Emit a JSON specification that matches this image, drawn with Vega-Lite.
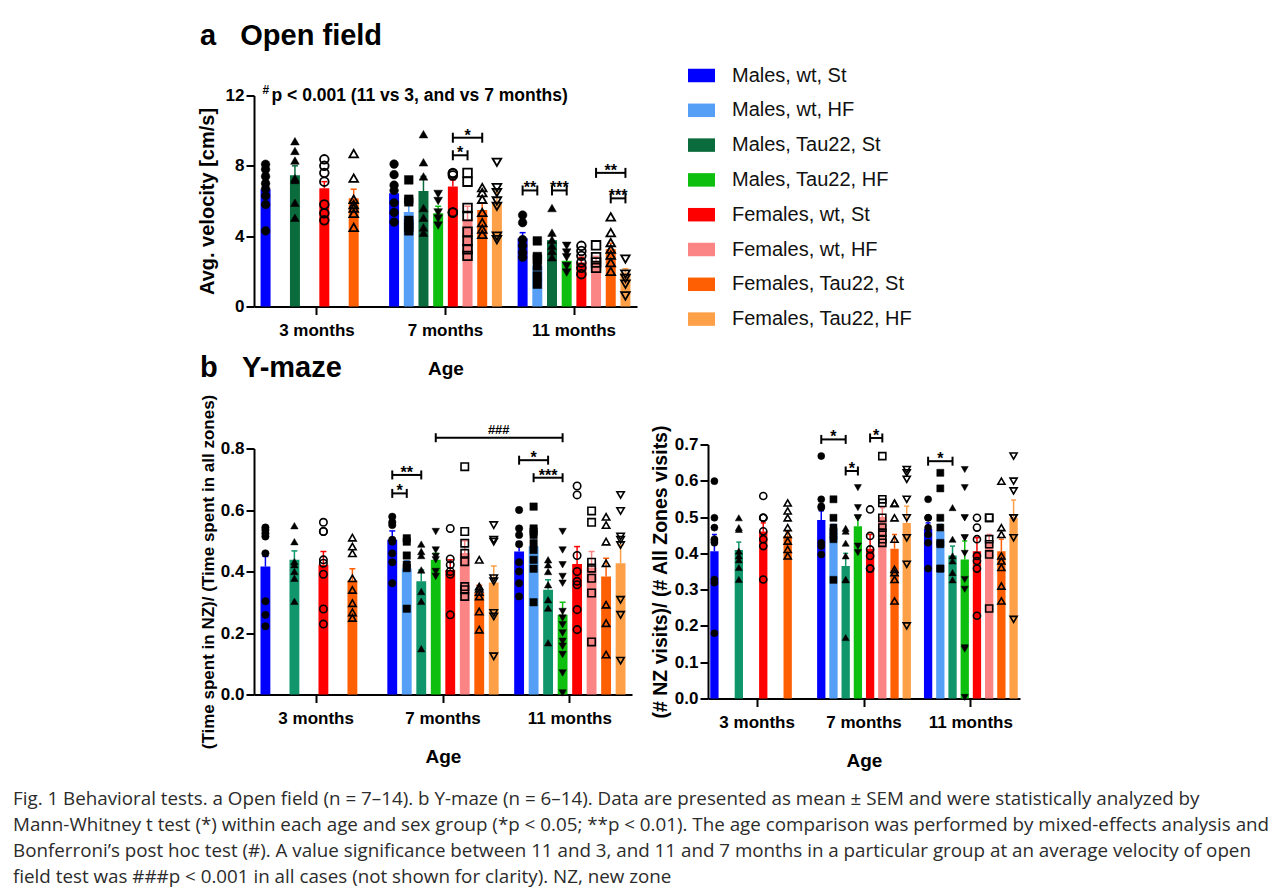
{
"$schema": "https://vega.github.io/schema/vega-lite/v6.json",
"background": "white",
"padding": {"left": 13, "top": 11.5, "right": 3, "bottom": 3},
"bounds": "flush",
"spacing": 0,
"config": {
 "font": "Liberation Sans",
 "view": {"stroke": null},
 "axis": {"grid": false, "labelOverlap": false, "domainColor": "#000", "domainWidth": 2, "tickColor": "#000", "tickWidth": 2, "tickSize": 8, "labelColor": "#000", "labelFont": "Liberation Sans", "labelFontWeight": "bold", "labelFontSize": 17, "labelPadding": 2, "titleColor": "#000", "titleFont": "Liberation Sans", "titleFontWeight": "bold"},
 "axisX": {"labelAngle": 0, "labelPadding": 8, "titlePadding": 21, "titleFontSize": 19, "bandPosition": 0.5},
 "title": {"font": "Liberation Sans", "color": "#000"}
},
"resolve": {"scale": {"color": "independent", "stroke": "independent", "fill": "independent", "shape": "independent", "xOffset": "independent", "x": "independent", "y": "independent"}, "axis": {"x": "independent", "y": "independent"}, "legend": {"color": "independent"}},
"datasets": {
 "barsA": [
  {"age":"3 months","group":"Males, wt, St","cond":"wt, St","mean":6.67,"hi":6.95,"pts":[8.09,7.8,7.4,7.0,6.7,6.3,5.8,4.3]},
  {"age":"3 months","group":"Males, Tau22, St","cond":"Tau22, St","mean":7.46,"hi":8.0,"pts":[9.4,8.85,8.3,7.3,7.2,5.9,5.05]},
  {"age":"3 months","group":"Females, wt, St","cond":"wt, St","mean":6.72,"hi":7.1,"pts":[8.37,8.0,7.6,7.1,5.8,5.3,4.9]},
  {"age":"3 months","group":"Females, Tau22, St","cond":"Tau22, St","mean":6.15,"hi":6.67,"pts":[8.7,7.3,6.1,5.8,5.6,5.3,4.5]},
  {"age":"7 months","group":"Males, wt, St","cond":"wt, St","mean":6.44,"hi":6.85,"pts":[8.1,7.5,6.9,6.6,5.9,5.35,4.8]},
  {"age":"7 months","group":"Males, wt, HF","cond":"wt, HF","mean":5.38,"hi":5.8,"pts":[7.2,6.1,5.95,4.9,4.7,4.5,4.3]},
  {"age":"7 months","group":"Males, Tau22, St","cond":"Tau22, St","mean":6.57,"hi":7.4,"pts":[9.8,8.2,7.4,5.6,5.05,4.5,4.2]},
  {"age":"7 months","group":"Males, Tau22, HF","cond":"Tau22, HF","mean":5.3,"hi":5.7,"pts":[6.4,6.0,5.35,5.0,4.6]},
  {"age":"7 months","group":"Females, wt, St","cond":"wt, St","mean":6.82,"hi":7.2,"pts":[7.6,7.55,7.45,5.35,5.35]},
  {"age":"7 months","group":"Females, wt, HF","cond":"wt, HF","mean":4.96,"hi":5.7,"pts":[7.6,7.1,5.6,5.15,4.25,3.73,3.26,2.88]},
  {"age":"7 months","group":"Females, Tau22, St","cond":"Tau22, St","mean":5.49,"hi":5.9,"pts":[6.76,6.48,6.1,5.35,4.77,4.4,4.1]},
  {"age":"7 months","group":"Females, Tau22, HF","cond":"Tau22, HF","mean":5.95,"hi":6.5,"pts":[8.2,6.76,6.48,6.0,5.7,4.0,3.8]},
  {"age":"11 months","group":"Males, wt, St","cond":"wt, St","mean":3.88,"hi":4.2,"pts":[5.2,4.77,3.8,3.45,3.07,2.8]},
  {"age":"11 months","group":"Males, wt, HF","cond":"wt, HF","mean":2.31,"hi":2.7,"pts":[3.73,2.84,2.7,2.3,1.74,1.27]},
  {"age":"11 months","group":"Males, Tau22, St","cond":"Tau22, St","mean":3.77,"hi":4.1,"pts":[5.6,4.2,3.8,3.45,3.16,2.8]},
  {"age":"11 months","group":"Males, Tau22, HF","cond":"Tau22, HF","mean":2.6,"hi":2.9,"pts":[3.45,3.07,2.8,2.3,1.93]},
  {"age":"11 months","group":"Females, wt, St","cond":"wt, St","mean":2.5,"hi":2.8,"pts":[3.45,3.16,2.88,2.5,2.2,1.84]},
  {"age":"11 months","group":"Females, wt, HF","cond":"wt, HF","mean":2.54,"hi":2.85,"pts":[3.48,2.8,2.5,2.2]},
  {"age":"11 months","group":"Females, Tau22, St","cond":"Tau22, St","mean":3.26,"hi":3.6,"pts":[5.1,4.2,3.64,3.26,2.92,2.5,2.0]},
  {"age":"11 months","group":"Females, Tau22, HF","cond":"Tau22, HF","mean":1.93,"hi":2.15,"pts":[2.7,1.84,1.6,1.27,0.6]}
 ],
 "brA": [
  {"id":"a1","age":"7 months","group":"Females, wt, St","y":9.6},{"id":"a1","age":"7 months","group":"Females, Tau22, St","y":9.6},
  {"id":"a2","age":"7 months","group":"Females, wt, St","y":8.6},{"id":"a2","age":"7 months","group":"Females, wt, HF","y":8.6},
  {"id":"a3","age":"11 months","group":"Males, wt, St","y":6.6},{"id":"a3","age":"11 months","group":"Males, wt, HF","y":6.6},
  {"id":"a4","age":"11 months","group":"Males, Tau22, St","y":6.6},{"id":"a4","age":"11 months","group":"Males, Tau22, HF","y":6.6},
  {"id":"a5","age":"11 months","group":"Females, wt, HF","y":7.6},{"id":"a5","age":"11 months","group":"Females, Tau22, HF","y":7.6},
  {"id":"a6","age":"11 months","group":"Females, Tau22, St","y":6.15},{"id":"a6","age":"11 months","group":"Females, Tau22, HF","y":6.15}
 ],
 "lbA": [
  {"age":"7 months","group":"Females, wt, HF","y":9.6,"t":"*","h":false},
  {"age":"7 months","group":"Females, wt, St","y":8.6,"t":"*","h":true},
  {"age":"11 months","group":"Males, wt, St","y":6.6,"t":"**","h":true},
  {"age":"11 months","group":"Males, Tau22, St","y":6.6,"t":"***","h":true},
  {"age":"11 months","group":"Females, Tau22, St","y":7.6,"t":"**","h":false},
  {"age":"11 months","group":"Females, Tau22, St","y":6.15,"t":"***","h":true}
 ],
 "barsBL": [
  {"age":"3 months","group":"Males, wt, St","cond":"wt, St","mean":0.416,"hi":0.449,"pts":[0.543,0.535,0.524,0.514,0.459,0.303,0.259,0.222]},
  {"age":"3 months","group":"Males, Tau22, St","cond":"Tau22, St","mean":0.438,"hi":0.467,"pts":[0.549,0.497,0.432,0.422,0.4,0.378,0.303]},
  {"age":"3 months","group":"Females, wt, St","cond":"wt, St","mean":0.422,"hi":0.465,"pts":[0.56,0.53,0.53,0.438,0.427,0.391,0.278,0.229]},
  {"age":"3 months","group":"Females, Tau22, St","cond":"Tau22, St","mean":0.371,"hi":0.409,"pts":[0.51,0.481,0.459,0.378,0.34,0.297,0.267,0.249]},
  {"age":"7 months","group":"Males, wt, St","cond":"wt, St","mean":0.503,"hi":0.532,"pts":[0.578,0.56,0.551,0.503,0.497,0.459,0.43,0.362]},
  {"age":"7 months","group":"Males, wt, HF","cond":"wt, HF","mean":0.41,"hi":0.435,"pts":[0.508,0.497,0.452,0.422,0.411,0.279]},
  {"age":"7 months","group":"Males, Tau22, St","cond":"Tau22, St","mean":0.368,"hi":0.405,"pts":[0.489,0.465,0.452,0.405,0.335,0.303,0.149]},
  {"age":"7 months","group":"Males, Tau22, HF","cond":"Tau22, HF","mean":0.438,"hi":0.459,"pts":[0.53,0.47,0.449,0.438,0.4,0.384]},
  {"age":"7 months","group":"Females, wt, St","cond":"wt, St","mean":0.405,"hi":0.438,"pts":[0.54,0.441,0.422,0.4,0.391,0.259]},
  {"age":"7 months","group":"Females, wt, HF","cond":"wt, HF","mean":0.46,"hi":0.5,"pts":[0.741,0.53,0.492,0.459,0.432,0.351,0.341,0.319]},
  {"age":"7 months","group":"Females, Tau22, St","cond":"Tau22, St","mean":0.33,"hi":0.355,"pts":[0.438,0.351,0.344,0.333,0.319,0.27,0.211]},
  {"age":"7 months","group":"Females, Tau22, HF","cond":"Tau22, HF","mean":0.364,"hi":0.418,"pts":[0.551,0.503,0.497,0.378,0.368,0.265,0.254,0.124]},
  {"age":"11 months","group":"Males, wt, St","cond":"wt, St","mean":0.465,"hi":0.497,"pts":[0.6,0.54,0.519,0.489,0.43,0.4,0.362,0.319]},
  {"age":"11 months","group":"Males, wt, HF","cond":"wt, HF","mean":0.481,"hi":0.51,"pts":[0.611,0.54,0.53,0.519,0.492,0.47,0.438,0.409,0.3]},
  {"age":"11 months","group":"Males, Tau22, St","cond":"Tau22, St","mean":0.341,"hi":0.373,"pts":[0.438,0.422,0.4,0.357,0.308,0.281,0.168]},
  {"age":"11 months","group":"Males, Tau22, HF","cond":"Tau22, HF","mean":0.259,"hi":0.3,"pts":[0.53,0.47,0.422,0.384,0.362,0.27,0.249,0.227,0.2,0.173,0.157,0.13,0.07,0.005]},
  {"age":"11 months","group":"Females, wt, St","cond":"wt, St","mean":0.424,"hi":0.481,"pts":[0.678,0.649,0.452,0.4,0.368,0.357,0.276,0.211]},
  {"age":"11 months","group":"Females, wt, HF","cond":"wt, HF","mean":0.413,"hi":0.465,"pts":[0.597,0.56,0.43,0.411,0.378,0.33,0.171]},
  {"age":"11 months","group":"Females, Tau22, St","cond":"Tau22, St","mean":0.384,"hi":0.443,"pts":[0.578,0.551,0.497,0.427,0.292,0.232,0.13]},
  {"age":"11 months","group":"Females, Tau22, HF","cond":"Tau22, HF","mean":0.427,"hi":0.486,"pts":[0.649,0.597,0.514,0.503,0.486,0.308,0.259,0.11]}
 ],
 "brBL": [
  {"id":"b1","age":"7 months","group":"Males, wt, St","y":0.654},{"id":"b1","age":"7 months","group":"Males, wt, HF","y":0.654},
  {"id":"b2","age":"7 months","group":"Males, wt, St","y":0.714},{"id":"b2","age":"7 months","group":"Males, Tau22, St","y":0.714},
  {"id":"b3","age":"7 months","group":"Males, Tau22, HF","y":0.835},{"id":"b3","age":"11 months","group":"Males, Tau22, HF","y":0.835},
  {"id":"b4","age":"11 months","group":"Males, wt, St","y":0.762},{"id":"b4","age":"11 months","group":"Males, Tau22, St","y":0.762},
  {"id":"b5","age":"11 months","group":"Males, wt, HF","y":0.705},{"id":"b5","age":"11 months","group":"Males, Tau22, HF","y":0.705}
 ],
 "lbBL": [
  {"age":"7 months","group":"Males, wt, St","y":0.654,"t":"*","h":true},
  {"age":"7 months","group":"Males, wt, HF","y":0.714,"t":"**","h":false},
  {"age":"7 months","group":"Females, Tau22, HF","y":0.835,"t":"###","h":true},
  {"age":"11 months","group":"Males, wt, HF","y":0.762,"t":"*","h":false},
  {"age":"11 months","group":"Males, Tau22, St","y":0.705,"t":"***","h":false}
 ],
 "barsBR": [
  {"age":"3 months","group":"Males, wt, St","cond":"wt, St","mean":0.406,"hi":0.452,"pts":[0.599,0.498,0.471,0.439,0.434,0.429,0.328,0.319,0.18]},
  {"age":"3 months","group":"Males, Tau22, St","cond":"Tau22, St","mean":0.409,"hi":0.431,"pts":[0.498,0.471,0.466,0.406,0.393,0.382,0.361,0.328]},
  {"age":"3 months","group":"Females, wt, St","cond":"wt, St","mean":0.46,"hi":0.484,"pts":[0.558,0.498,0.498,0.498,0.461,0.439,0.42,0.328]},
  {"age":"3 months","group":"Females, Tau22, St","cond":"Tau22, St","mean":0.448,"hi":0.46,"pts":[0.539,0.517,0.498,0.471,0.452,0.434,0.411,0.393]},
  {"age":"7 months","group":"Males, wt, St","cond":"wt, St","mean":0.492,"hi":0.517,"pts":[0.668,0.549,0.53,0.526,0.429,0.42,0.397]},
  {"age":"7 months","group":"Males, wt, HF","cond":"wt, HF","mean":0.465,"hi":0.48,"pts":[0.549,0.498,0.471,0.461,0.448,0.439,0.327]},
  {"age":"7 months","group":"Males, Tau22, St","cond":"Tau22, St","mean":0.365,"hi":0.4,"pts":[0.469,0.461,0.428,0.393,0.328,0.327,0.168]},
  {"age":"7 months","group":"Males, Tau22, HF","cond":"Tau22, HF","mean":0.475,"hi":0.498,"pts":[0.581,0.526,0.498,0.498,0.42,0.402]},
  {"age":"7 months","group":"Females, wt, St","cond":"wt, St","mean":0.413,"hi":0.452,"pts":[0.521,0.448,0.411,0.393,0.358,0.358]},
  {"age":"7 months","group":"Females, wt, HF","cond":"wt, HF","mean":0.5,"hi":0.526,"pts":[0.668,0.549,0.539,0.498,0.471,0.457,0.439,0.429]},
  {"age":"7 months","group":"Females, Tau22, St","cond":"Tau22, St","mean":0.413,"hi":0.452,"pts":[0.538,0.538,0.498,0.439,0.356,0.347,0.328,0.269]},
  {"age":"7 months","group":"Females, Tau22, HF","cond":"Tau22, HF","mean":0.484,"hi":0.53,"pts":[0.631,0.622,0.604,0.549,0.498,0.443,0.37,0.2]},
  {"age":"11 months","group":"Males, wt, St","cond":"wt, St","mean":0.468,"hi":0.484,"pts":[0.549,0.498,0.498,0.471,0.452,0.429,0.358]},
  {"age":"11 months","group":"Males, wt, HF","cond":"wt, HF","mean":0.461,"hi":0.48,"pts":[0.622,0.579,0.498,0.471,0.429,0.425,0.358,0.358]},
  {"age":"11 months","group":"Males, Tau22, St","cond":"Tau22, St","mean":0.394,"hi":0.42,"pts":[0.526,0.439,0.393,0.379,0.347,0.327]},
  {"age":"11 months","group":"Males, Tau22, HF","cond":"Tau22, HF","mean":0.383,"hi":0.434,"pts":[0.631,0.581,0.498,0.498,0.443,0.443,0.4,0.328,0.301,0.14,0.136,0.003]},
  {"age":"11 months","group":"Females, wt, St","cond":"wt, St","mean":0.406,"hi":0.443,"pts":[0.498,0.471,0.439,0.393,0.379,0.358,0.228]},
  {"age":"11 months","group":"Females, wt, HF","cond":"wt, HF","mean":0.43,"hi":0.452,"pts":[0.498,0.498,0.439,0.425,0.397,0.248]},
  {"age":"11 months","group":"Females, Tau22, St","cond":"Tau22, St","mean":0.406,"hi":0.439,"pts":[0.599,0.471,0.452,0.393,0.379,0.361,0.31,0.269]},
  {"age":"11 months","group":"Females, Tau22, HF","cond":"Tau22, HF","mean":0.498,"hi":0.547,"pts":[0.668,0.599,0.572,0.498,0.498,0.443,0.218]}
 ],
 "brBR": [
  {"id":"c1","age":"7 months","group":"Males, wt, St","y":0.714},{"id":"c1","age":"7 months","group":"Males, Tau22, St","y":0.714},
  {"id":"c2","age":"7 months","group":"Males, Tau22, St","y":0.627},{"id":"c2","age":"7 months","group":"Males, Tau22, HF","y":0.627},
  {"id":"c3","age":"7 months","group":"Females, wt, St","y":0.718},{"id":"c3","age":"7 months","group":"Females, wt, HF","y":0.718},
  {"id":"c4","age":"11 months","group":"Males, wt, St","y":0.654},{"id":"c4","age":"11 months","group":"Males, Tau22, St","y":0.654}
 ],
 "lbBR": [
  {"age":"7 months","group":"Males, wt, HF","y":0.714,"t":"*","h":false},
  {"age":"7 months","group":"Males, Tau22, St","y":0.627,"t":"*","h":true},
  {"age":"7 months","group":"Females, wt, St","y":0.718,"t":"*","h":true},
  {"age":"11 months","group":"Males, wt, HF","y":0.654,"t":"*","h":false}
 ]
},
"vconcat": [
 {"width": 1, "height": 84, "data": {"values": [{}]}, "mark": {"type": "text"}, "encoding": {}},
 {
  "bounds": "flush",
  "spacing": 138,
  "resolve": {"scale": {"color": "independent", "stroke": "independent", "fill": "independent", "shape": "independent", "xOffset": "independent", "x": "independent", "y": "independent"}, "axis": {"x": "independent", "y": "independent"}, "legend": {"color": "independent"}},
  "title": {"text": ["Fig. 1 Behavioral tests. a Open field (n = 7–14). b Y-maze (n = 6–14). Data are presented as mean ± SEM and were statistically analyzed by", "Mann-Whitney t test (*) within each age and sex group (*p < 0.05; **p < 0.01). The age comparison was performed by mixed-effects analysis and", "Bonferroni’s post hoc test (#). A value significance between 11 and 3, and 11 and 7 months in a particular group at an average velocity of open", "field test was ###p < 0.001 in all cases (not shown for clarity). NZ, new zone"], "orient": "bottom", "anchor": "start", "frame": "group", "dx": -241, "offset": 19, "font": "Open Sans", "fontSize": 18.8, "fontWeight": "normal", "color": "#2b2b2b", "lineHeight": 26.2, "baseline": "top"},
  "vconcat": [
   {
    "width": 383, "height": 211,
    "title": {"text": "a\u00a0\u00a0\u00a0Open field", "anchor": "start", "frame": "group", "dx": -54, "fontSize": 29, "fontWeight": "bold", "baseline": "alphabetic", "offset": -12},
    "encoding": {
     "x": {"field": "age", "type": "nominal", "title": "Age", "scale": {"domain": ["3 months","7 months","11 months"], "paddingInner": 0.08, "paddingOuter": 0.03}},
     "xOffset": {"field": "group", "type": "nominal", "scale": {"domain": ["Males, wt, St","Males, wt, HF","Males, Tau22, St","Males, Tau22, HF","Females, wt, St","Females, wt, HF","Females, Tau22, St","Females, Tau22, HF"], "paddingInner": 0.32, "paddingOuter": 0.185}}
    },
    "layer": [
     {"data": {"name": "barsA"}, "mark": {"type": "bar"},
      "encoding": {"y": {"field": "mean", "type": "quantitative", "title": "Avg. velocity [cm/s]", "scale": {"domain": [0, 12], "nice": false}, "axis": {"values": [0,4,8,12], "titleFontSize": 20, "titlePadding": 8}},
       "color": {"field": "group", "type": "nominal", "scale": {"domain": ["Males, wt, St","Males, wt, HF","Males, Tau22, St","Males, Tau22, HF","Females, wt, St","Females, wt, HF","Females, Tau22, St","Females, Tau22, HF"], "range": ["#0000ff","#55a0f6","#0a6b3c","#0fbf10","#fe0000","#fb8484","#ff5f03","#fda048"]},
        "legend": {"orient": "none", "legendX": 434, "legendY": -33.5, "direction": "vertical", "title": null, "symbolType": "M-1,-0.5H1V0.5H-1Z", "symbolSize": 729, "symbolStrokeWidth": 0, "symbolOpacity": 1, "labelFontSize": 20, "labelFont": "Liberation Sans", "labelFontWeight": "normal", "labelColor": "#111", "rowPadding": 10.8, "labelOffset": 17, "labelLimit": 400, "padding": 0, "symbolOffset": 0}}}},
     {"data": {"name": "barsA"}, "mark": {"type": "rule", "strokeWidth": 1.5},
      "encoding": {"y": {"field": "mean", "type": "quantitative", "title": "Avg. velocity [cm/s]"}, "y2": {"field": "hi"},
       "stroke": {"field": "group", "type": "nominal", "scale": {"domain": ["Males, wt, St","Males, wt, HF","Males, Tau22, St","Males, Tau22, HF","Females, wt, St","Females, wt, HF","Females, Tau22, St","Females, Tau22, HF"], "range": ["#0000ff","#55a0f6","#0a6b3c","#0fbf10","#fe0000","#fb8484","#ff5f03","#fda048"]}, "legend": null}}},
     {"data": {"name": "barsA"}, "mark": {"type": "tick", "thickness": 1.5, "size": 6, "opacity": 1},
      "encoding": {"y": {"field": "hi", "type": "quantitative", "title": "Avg. velocity [cm/s]"},
       "fill": {"field": "group", "type": "nominal", "scale": {"domain": ["Males, wt, St","Males, wt, HF","Males, Tau22, St","Males, Tau22, HF","Females, wt, St","Females, wt, HF","Females, Tau22, St","Females, Tau22, HF"], "range": ["#0000ff","#55a0f6","#0a6b3c","#0fbf10","#fe0000","#fb8484","#ff5f03","#fda048"]}, "legend": null}}},
     {"data": {"name": "barsA"}, "transform": [{"flatten": ["pts"]}, {"filter": "indexof(datum.group, 'Males') === 0"}],
      "mark": {"type": "point", "filled": true, "fill": "#000", "stroke": "#000", "strokeWidth": 0.5, "size": 75, "opacity": 1},
      "encoding": {"y": {"field": "pts", "type": "quantitative", "title": "Avg. velocity [cm/s]"},
       "shape": {"field": "cond", "type": "nominal", "scale": {"domain": ["wt, St","wt, HF","Tau22, St","Tau22, HF"], "range": ["circle","square","triangle-up","triangle-down"]}, "legend": null}}},
     {"data": {"name": "barsA"}, "transform": [{"flatten": ["pts"]}, {"filter": "indexof(datum.group, 'Females') === 0"}],
      "mark": {"type": "point", "filled": false, "stroke": "#000", "strokeWidth": 1.8, "size": 75, "opacity": 1},
      "encoding": {"y": {"field": "pts", "type": "quantitative", "title": "Avg. velocity [cm/s]"},
       "shape": {"field": "cond", "type": "nominal", "legend": null}}},
     {"data": {"name": "brA"}, "mark": {"type": "line", "stroke": "#000", "strokeWidth": 2},
      "encoding": {"y": {"field": "y", "type": "quantitative", "title": "Avg. velocity [cm/s]"}, "detail": {"field": "id", "type": "nominal"}}},
     {"data": {"name": "brA"}, "mark": {"type": "point", "shape": "M0,-1L0,1", "size": 100, "filled": false, "stroke": "#000", "strokeWidth": 2, "opacity": 1},
      "encoding": {"y": {"field": "y", "type": "quantitative", "title": "Avg. velocity [cm/s]"}}},
     {"data": {"name": "lbA"}, "transform": [{"filter": "!datum.h"}], "mark": {"type": "text", "fontSize": 16, "fontWeight": "bold", "baseline": "alphabetic", "dy": 3, "fill": "#000"},
      "encoding": {"y": {"field": "y", "type": "quantitative", "title": "Avg. velocity [cm/s]"}, "text": {"field": "t"}}},
     {"data": {"name": "lbA"}, "transform": [{"filter": "datum.h"}], "mark": {"type": "text", "fontSize": 16, "fontWeight": "bold", "baseline": "alphabetic", "dy": 3, "dx": 7.35, "fill": "#000"},
      "encoding": {"y": {"field": "y", "type": "quantitative", "title": "Avg. velocity [cm/s]"}, "text": {"field": "t"}}},
     {"data": {"values": [{"age": "3 months", "group": "Males, wt, St", "y": 12, "t": "p < 0.001 (11 vs 3, and vs 7 months)"}]}, "mark": {"type": "text", "align": "left", "baseline": "middle", "dx": 6, "fontSize": 17.5, "fontWeight": "bold", "fill": "#000"},
      "encoding": {"y": {"field": "y", "type": "quantitative", "title": "Avg. velocity [cm/s]"}, "text": {"field": "t"}}},
     {"data": {"values": [{"age": "3 months", "group": "Males, wt, St", "y": 12, "t": "#"}]}, "mark": {"type": "text", "align": "left", "baseline": "middle", "dx": -3, "dy": -6, "fontSize": 12, "fontWeight": "bold", "fill": "#000"},
      "encoding": {"y": {"field": "y", "type": "quantitative", "title": "Avg. velocity [cm/s]"}, "text": {"field": "t"}}}
    ]
   },
   {
    "resolve": {"scale": {"xOffset": "independent", "x": "independent", "y": "independent"}, "axis": {"x": "independent", "y": "independent"}},
    "hconcat": [
     {
      "width": 378, "height": 246,
      "title": {"text": "b\u00a0\u00a0\u00a0Y-maze", "anchor": "start", "frame": "group", "dx": -54, "fontSize": 29, "fontWeight": "bold", "baseline": "alphabetic", "offset": -12},
      "encoding": {
       "x": {"field": "age", "type": "nominal", "title": "Age", "scale": {"domain": ["3 months","7 months","11 months"], "paddingInner": 0.08, "paddingOuter": 0.03}},
       "xOffset": {"field": "group", "type": "nominal", "scale": {"domain": ["Males, wt, St","Males, wt, HF","Males, Tau22, St","Males, Tau22, HF","Females, wt, St","Females, wt, HF","Females, Tau22, St","Females, Tau22, HF"], "paddingInner": 0.32, "paddingOuter": 0.185}}
      },
      "layer": [
       {"data": {"name": "barsBL"}, "mark": {"type": "bar"},
        "encoding": {"y": {"field": "mean", "type": "quantitative", "title": "(Time spent in NZ)/ (Time spent in all zones)", "scale": {"domain": [0, 0.8], "nice": false}, "axis": {"values": [0,0.2,0.4,0.6,0.8], "format": ".1f", "titleFontSize": 17, "titlePadding": 3}},
         "color": {"field": "group", "type": "nominal", "scale": {"domain": ["Males, wt, St","Males, wt, HF","Males, Tau22, St","Males, Tau22, HF","Females, wt, St","Females, wt, HF","Females, Tau22, St","Females, Tau22, HF"], "range": ["#0000ff","#55a0f6","#10966a","#0fbf10","#fe0000","#fb8484","#ff5f03","#fda048"]}, "legend": null}}},
       {"data": {"name": "barsBL"}, "mark": {"type": "rule", "strokeWidth": 1.5},
        "encoding": {"y": {"field": "mean", "type": "quantitative", "title": "(Time spent in NZ)/ (Time spent in all zones)"}, "y2": {"field": "hi"},
         "stroke": {"field": "group", "type": "nominal", "scale": {"domain": ["Males, wt, St","Males, wt, HF","Males, Tau22, St","Males, Tau22, HF","Females, wt, St","Females, wt, HF","Females, Tau22, St","Females, Tau22, HF"], "range": ["#0000ff","#55a0f6","#10966a","#0fbf10","#fe0000","#fb8484","#ff5f03","#fda048"]}, "legend": null}}},
       {"data": {"name": "barsBL"}, "mark": {"type": "tick", "thickness": 1.5, "size": 6, "opacity": 1},
        "encoding": {"y": {"field": "hi", "type": "quantitative", "title": "(Time spent in NZ)/ (Time spent in all zones)"},
         "fill": {"field": "group", "type": "nominal", "scale": {"domain": ["Males, wt, St","Males, wt, HF","Males, Tau22, St","Males, Tau22, HF","Females, wt, St","Females, wt, HF","Females, Tau22, St","Females, Tau22, HF"], "range": ["#0000ff","#55a0f6","#10966a","#0fbf10","#fe0000","#fb8484","#ff5f03","#fda048"]}, "legend": null}}},
       {"data": {"name": "barsBL"}, "transform": [{"flatten": ["pts"]}, {"filter": "indexof(datum.group, 'Males') === 0"}],
        "mark": {"type": "point", "filled": true, "fill": "#000", "stroke": "#000", "strokeWidth": 0.5, "size": 55, "opacity": 1},
        "encoding": {"y": {"field": "pts", "type": "quantitative", "title": "(Time spent in NZ)/ (Time spent in all zones)"},
         "shape": {"field": "cond", "type": "nominal", "scale": {"domain": ["wt, St","wt, HF","Tau22, St","Tau22, HF"], "range": ["circle","square","triangle-up","triangle-down"]}, "legend": null}}},
       {"data": {"name": "barsBL"}, "transform": [{"flatten": ["pts"]}, {"filter": "indexof(datum.group, 'Females') === 0"}],
        "mark": {"type": "point", "filled": false, "stroke": "#000", "strokeWidth": 1.6, "size": 55, "opacity": 1},
        "encoding": {"y": {"field": "pts", "type": "quantitative", "title": "(Time spent in NZ)/ (Time spent in all zones)"},
         "shape": {"field": "cond", "type": "nominal", "legend": null}}},
       {"data": {"name": "brBL"}, "mark": {"type": "line", "stroke": "#000", "strokeWidth": 2},
        "encoding": {"y": {"field": "y", "type": "quantitative", "title": "(Time spent in NZ)/ (Time spent in all zones)"}, "detail": {"field": "id", "type": "nominal"}}},
       {"data": {"name": "brBL"}, "mark": {"type": "point", "shape": "M0,-1L0,1", "size": 81, "filled": false, "stroke": "#000", "strokeWidth": 2, "opacity": 1},
        "encoding": {"y": {"field": "y", "type": "quantitative", "title": "(Time spent in NZ)/ (Time spent in all zones)"}}},
       {"data": {"name": "lbBL"}, "transform": [{"filter": "!datum.h"}], "mark": {"type": "text", "fontSize": 16, "fontWeight": "bold", "baseline": "alphabetic", "dy": 3, "fill": "#000"},
        "encoding": {"y": {"field": "y", "type": "quantitative", "title": "(Time spent in NZ)/ (Time spent in all zones)"}, "text": {"field": "t"}}},
       {"data": {"name": "lbBL"}, "transform": [{"filter": "datum.h && datum.t !== '###'"}], "mark": {"type": "text", "fontSize": 16, "fontWeight": "bold", "baseline": "alphabetic", "dy": 3, "dx": 7.25, "fill": "#000"},
        "encoding": {"y": {"field": "y", "type": "quantitative", "title": "(Time spent in NZ)/ (Time spent in all zones)"}, "text": {"field": "t"}}},
       {"data": {"name": "lbBL"}, "transform": [{"filter": "datum.t === '###'"}], "mark": {"type": "text", "fontSize": 13, "fontWeight": "bold", "baseline": "alphabetic", "dy": -4, "dx": 5, "fill": "#000"},
        "encoding": {"y": {"field": "y", "type": "quantitative", "title": "(Time spent in NZ)/ (Time spent in all zones)"}, "text": {"field": "t"}}}
      ]
     },
     {
      "width": 312, "height": 254,
      "encoding": {
       "x": {"field": "age", "type": "nominal", "title": "Age", "scale": {"domain": ["3 months","7 months","11 months"], "paddingInner": 0.08, "paddingOuter": 0}},
       "xOffset": {"field": "group", "type": "nominal", "scale": {"domain": ["Males, wt, St","Males, wt, HF","Males, Tau22, St","Males, Tau22, HF","Females, wt, St","Females, wt, HF","Females, Tau22, St","Females, Tau22, HF"], "paddingInner": 0.32, "paddingOuter": 0.185}}
      },
      "layer": [
       {"data": {"name": "barsBR"}, "mark": {"type": "bar"},
        "encoding": {"y": {"field": "mean", "type": "quantitative", "title": "(# NZ visits)/ (# All Zones visits)", "scale": {"domain": [0, 0.7], "nice": false}, "axis": {"values": [0,0.1,0.2,0.3,0.4,0.5,0.6,0.7], "tickCount": 8, "format": ".1f", "titleFontSize": 19.5, "titlePadding": 4}},
         "color": {"field": "group", "type": "nominal", "scale": {"domain": ["Males, wt, St","Males, wt, HF","Males, Tau22, St","Males, Tau22, HF","Females, wt, St","Females, wt, HF","Females, Tau22, St","Females, Tau22, HF"], "range": ["#0000ff","#55a0f6","#10966a","#0fbf10","#fe0000","#fb8484","#ff5f03","#fda048"]}, "legend": null}}},
       {"data": {"name": "barsBR"}, "mark": {"type": "rule", "strokeWidth": 1.5},
        "encoding": {"y": {"field": "mean", "type": "quantitative", "title": "(# NZ visits)/ (# All Zones visits)"}, "y2": {"field": "hi"},
         "stroke": {"field": "group", "type": "nominal", "scale": {"domain": ["Males, wt, St","Males, wt, HF","Males, Tau22, St","Males, Tau22, HF","Females, wt, St","Females, wt, HF","Females, Tau22, St","Females, Tau22, HF"], "range": ["#0000ff","#55a0f6","#10966a","#0fbf10","#fe0000","#fb8484","#ff5f03","#fda048"]}, "legend": null}}},
       {"data": {"name": "barsBR"}, "mark": {"type": "tick", "thickness": 1.5, "size": 5, "opacity": 1},
        "encoding": {"y": {"field": "hi", "type": "quantitative", "title": "(# NZ visits)/ (# All Zones visits)"},
         "fill": {"field": "group", "type": "nominal", "scale": {"domain": ["Males, wt, St","Males, wt, HF","Males, Tau22, St","Males, Tau22, HF","Females, wt, St","Females, wt, HF","Females, Tau22, St","Females, Tau22, HF"], "range": ["#0000ff","#55a0f6","#10966a","#0fbf10","#fe0000","#fb8484","#ff5f03","#fda048"]}, "legend": null}}},
       {"data": {"name": "barsBR"}, "transform": [{"flatten": ["pts"]}, {"filter": "indexof(datum.group, 'Males') === 0"}],
        "mark": {"type": "point", "filled": true, "fill": "#000", "stroke": "#000", "strokeWidth": 0.5, "size": 50, "opacity": 1},
        "encoding": {"y": {"field": "pts", "type": "quantitative", "title": "(# NZ visits)/ (# All Zones visits)"},
         "shape": {"field": "cond", "type": "nominal", "scale": {"domain": ["wt, St","wt, HF","Tau22, St","Tau22, HF"], "range": ["circle","square","triangle-up","triangle-down"]}, "legend": null}}},
       {"data": {"name": "barsBR"}, "transform": [{"flatten": ["pts"]}, {"filter": "indexof(datum.group, 'Females') === 0"}],
        "mark": {"type": "point", "filled": false, "stroke": "#000", "strokeWidth": 1.6, "size": 50, "opacity": 1},
        "encoding": {"y": {"field": "pts", "type": "quantitative", "title": "(# NZ visits)/ (# All Zones visits)"},
         "shape": {"field": "cond", "type": "nominal", "legend": null}}},
       {"data": {"name": "brBR"}, "mark": {"type": "line", "stroke": "#000", "strokeWidth": 2},
        "encoding": {"y": {"field": "y", "type": "quantitative", "title": "(# NZ visits)/ (# All Zones visits)"}, "detail": {"field": "id", "type": "nominal"}}},
       {"data": {"name": "brBR"}, "mark": {"type": "point", "shape": "M0,-1L0,1", "size": 81, "filled": false, "stroke": "#000", "strokeWidth": 2, "opacity": 1},
        "encoding": {"y": {"field": "y", "type": "quantitative", "title": "(# NZ visits)/ (# All Zones visits)"}}},
       {"data": {"name": "lbBR"}, "transform": [{"filter": "!datum.h"}], "mark": {"type": "text", "fontSize": 16, "fontWeight": "bold", "baseline": "alphabetic", "dy": 3, "fill": "#000"},
        "encoding": {"y": {"field": "y", "type": "quantitative", "title": "(# NZ visits)/ (# All Zones visits)"}, "text": {"field": "t"}}},
       {"data": {"name": "lbBR"}, "transform": [{"filter": "datum.h"}], "mark": {"type": "text", "fontSize": 16, "fontWeight": "bold", "baseline": "alphabetic", "dy": 3, "dx": 6.1, "fill": "#000"},
        "encoding": {"y": {"field": "y", "type": "quantitative", "title": "(# NZ visits)/ (# All Zones visits)"}, "text": {"field": "t"}}}
      ]
     }
    ],
    "spacing": 76,
    "center": true,
    "bounds": "flush"
   }
  ]
 }
]
}
